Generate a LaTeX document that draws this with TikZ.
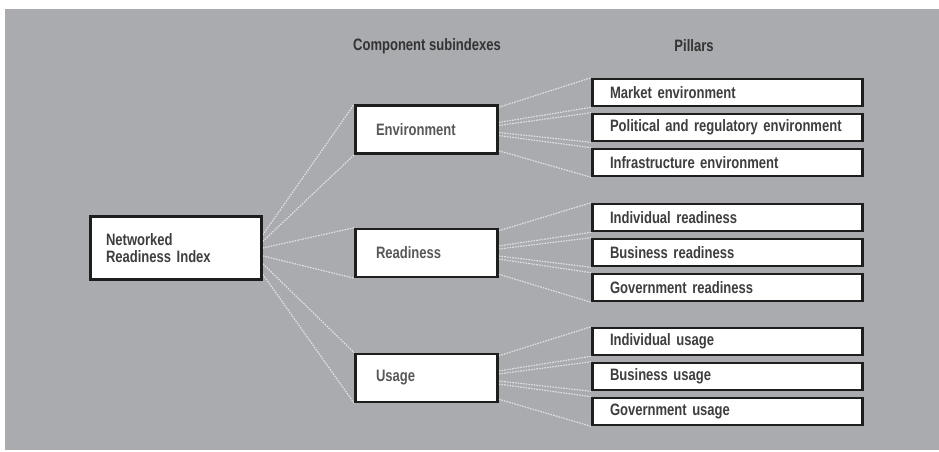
\documentclass[tikz,border=0pt]{standalone}
\usepackage{fontspec}
\setmainfont{Liberation Sans}[FakeStretch=0.79]
\usetikzlibrary{calc,backgrounds}
\definecolor{panel}{HTML}{AAABAF}
\definecolor{frame}{HTML}{1E1E1E}
\definecolor{linkc}{HTML}{E0E0E2}
\definecolor{labeltext}{HTML}{3E3E3E}
\definecolor{subtext}{HTML}{585858}
\begin{document}
\begin{tikzpicture}[x=1pt,y=-1pt,
  font=\fontsize{16.5}{18}\selectfont\bfseries,
  box/.style={draw=frame,line width=2.6pt,fill=white,align=left,inner ysep=0pt},
  indexbox/.style={box,minimum width=171pt,minimum height=63pt,
    text width=140pt,inner xsep=15.5pt,text=labeltext},
  subbox/.style={box,minimum width=142pt,minimum height=48pt,
    text width=101pt,inner xsep=20.5pt,text=subtext},
  pillarbox/.style={box,minimum width=270pt,minimum height=27pt,
    text width=235pt,inner xsep=17.5pt,text=labeltext},
  header/.style={text=black!80},
  link/.style={draw=linkc,line width=1.2pt,dash pattern=on 1.6pt off 1.1pt}]
\useasboundingbox (0,0) rectangle (939,452);
\begin{pgfonlayer}{background}
  \fill[panel] (5,9) rectangle (939,450);
\end{pgfonlayer}

% column headings
\node[header] (hsub) at (427,46) {Component subindexes};
\node[header] (hpil) at (694,46) {Pillars};

% overall index
\node[indexbox] (nri) at (176,248) {Networked\\[-1pt]Readiness Index};

% component subindexes
\node[subbox] (env) at (426.5,129.5) {Environment};
\node[subbox] (rea) at (426.5,253) {Readiness};
\node[subbox] (usa) at (426.5,378) {Usage};

% pillars
\node[pillarbox] (p1) at (727.5,92.5)  {Market environment};
\node[pillarbox] (p2) at (727.5,127.5) {Political and regulatory environment};
\node[pillarbox] (p3) at (727.5,162.5) {Infrastructure environment};
\node[pillarbox] (p4) at (727.5,217.5) {Individual readiness};
\node[pillarbox] (p5) at (727.5,252.5) {Business readiness};
\node[pillarbox] (p6) at (727.5,287.5) {Government readiness};
\node[pillarbox] (p7) at (727.5,341.5) {Individual usage};
\node[pillarbox] (p8) at (727.5,376.5) {Business usage};
\node[pillarbox] (p9) at (727.5,411.5) {Government usage};

% dotted connectors behind the boxes
\begin{pgfonlayer}{background}
  \draw[link] ($(nri.north east)!0.30!(nri.south east)$) -- (env.north west);
  \draw[link] ($(nri.north east)!0.40!(nri.south east)$) -- (env.south west);
  \draw[link] ($(nri.north east)!0.50!(nri.south east)$) -- (rea.north west);
  \draw[link] ($(nri.north east)!0.62!(nri.south east)$) -- (rea.south west);
  \draw[link] ($(nri.north east)!0.74!(nri.south east)$) -- (usa.north west);
  \draw[link] ($(nri.north east)!0.90!(nri.south east)$) -- (usa.south west);
  \foreach \s/\a/\b/\c in {env/p1/p2/p3, rea/p4/p5/p6, usa/p7/p8/p9}{
    \draw[link] ($(\s.north east)!0.06!(\s.south east)$) -- (\a.north west);
    \draw[link] ($(\s.north east)!0.36!(\s.south east)$) -- (\a.south west);
    \draw[link] ($(\s.north east)!0.42!(\s.south east)$) -- (\b.north west);
    \draw[link] ($(\s.north east)!0.56!(\s.south east)$) -- (\b.south west);
    \draw[link] ($(\s.north east)!0.62!(\s.south east)$) -- (\c.north west);
    \draw[link] ($(\s.north east)!0.92!(\s.south east)$) -- (\c.south west);
  }
\end{pgfonlayer}
\end{tikzpicture}
\end{document}
